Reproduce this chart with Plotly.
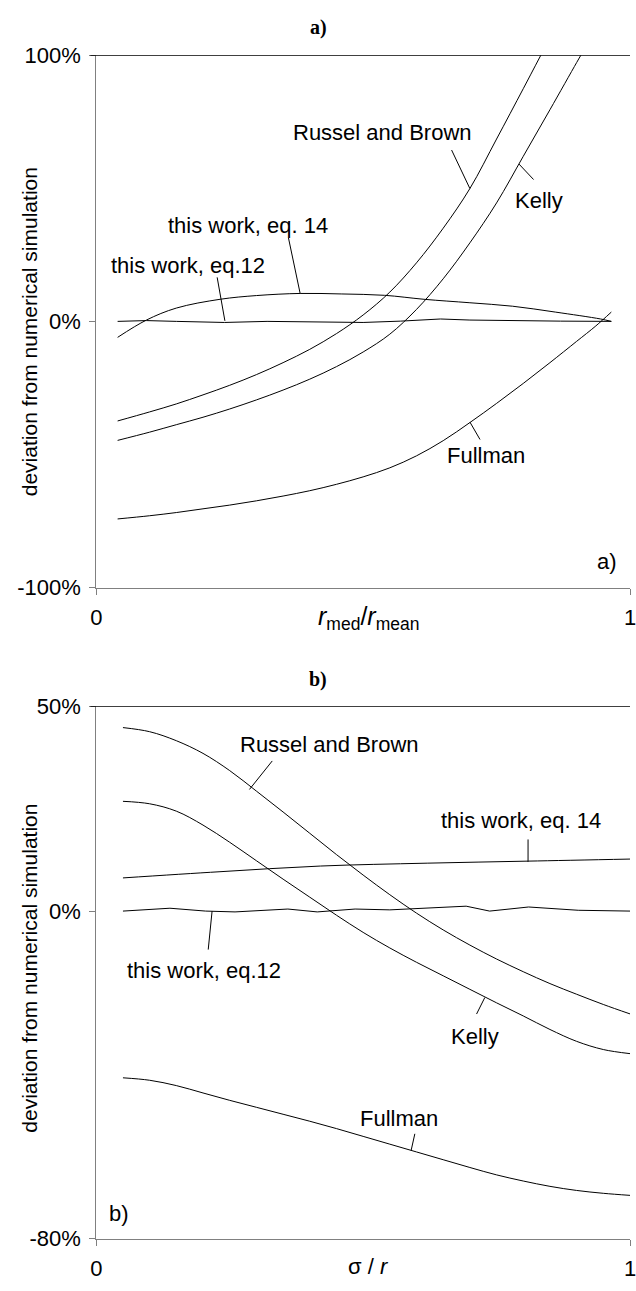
import plotly.graph_objects as go

W, H = 636, 1291

# ---------------- data: panel a) ----------------
a_russel_x = [0.04, 0.10, 0.15, 0.20, 0.25, 0.30, 0.35, 0.40, 0.45, 0.50, 0.55, 0.60, 0.65, 0.70, 0.75, 0.80, 0.833]
a_russel_y = [-37.4, -34.0, -31.0, -27.6, -24.0, -20.0, -15.5, -10.5, -4.6, 2.4, 11.0, 22.0, 35.0, 49.9, 68.5, 87.4, 100.0]

a_kelly_x = [0.04, 0.10, 0.15, 0.20, 0.25, 0.30, 0.35, 0.40, 0.45, 0.50, 0.55, 0.60, 0.65, 0.70, 0.75, 0.80, 0.85, 0.90, 0.908]
a_kelly_y = [-44.7, -41.6, -38.8, -36.0, -32.9, -29.5, -25.8, -21.7, -17.0, -11.5, -4.8, 4.5, 16.0, 29.5, 44.5, 62.0, 79.5, 97.2, 100.0]

a_fullman_x = [0.04, 0.10, 0.15, 0.20, 0.25, 0.30, 0.35, 0.40, 0.45, 0.50, 0.55, 0.60, 0.65, 0.70, 0.75, 0.80, 0.85, 0.90, 0.936, 0.965]
a_fullman_y = [-74.2, -73.0, -71.8, -70.4, -69.0, -67.4, -65.6, -63.6, -61.2, -58.4, -55.0, -50.5, -44.8, -38.0, -30.8, -23.3, -15.5, -7.5, -1.7, 3.5]

a_eq14_x = [0.04, 0.094, 0.15, 0.232, 0.30, 0.382, 0.46, 0.54, 0.614, 0.70, 0.78, 0.86, 0.945, 0.965]
a_eq14_y = [-6.0, 0.5, 5.0, 8.3, 9.7, 10.5, 10.3, 9.8, 8.3, 7.0, 5.7, 3.5, 0.9, 0.0]

a_eq12_x = [0.04, 0.094, 0.15, 0.24, 0.32, 0.41, 0.50, 0.57, 0.645, 0.70, 0.78, 0.87, 0.965]
a_eq12_y = [0.0, 0.3, 0.0, -0.4, 0.0, -0.3, -0.4, 0.1, 0.9, 0.5, 0.2, 0.1, 0.0]

# ---------------- data: panel b) ----------------
b_grid_x = [0.05, 0.10, 0.15, 0.20, 0.25, 0.30, 0.35, 0.40, 0.45, 0.50,
            0.55, 0.60, 0.65, 0.70, 0.75, 0.80, 0.85, 0.90, 0.95, 1.00]
b_russel_y = [44.8, 43.8, 41.6, 38.5, 34.3, 29.3, 24.2, 19.0, 13.8, 8.8,
              4.0, -0.5, -4.6, -8.3, -11.7, -14.8, -17.7, -20.3, -22.8, -25.1]
b_kelly_y = [26.8, 26.2, 24.4, 21.0, 16.8, 12.3, 7.8, 3.4, -1.0, -5.2,
             -9.0, -12.5, -15.8, -19.1, -22.4, -25.6, -28.9, -31.8, -33.8, -34.8]
b_fullman_y = [-40.7, -41.3, -42.6, -44.4, -46.2, -47.9, -49.6, -51.3, -53.1, -55.0,
               -56.9, -58.8, -60.7, -62.6, -64.4, -65.9, -67.2, -68.2, -68.9, -69.4]

b_eq14_x = [0.05, 0.23, 0.42, 0.62, 0.81, 1.0]
b_eq14_y = [8.1, 9.6, 11.0, 11.7, 12.2, 12.7]

b_eq12_x = [0.05, 0.138, 0.205, 0.26, 0.359, 0.414, 0.485, 0.55, 0.693, 0.737, 0.81, 0.903, 1.0]
b_eq12_y = [0.0, 0.7, 0.0, -0.2, 0.5, -0.2, 0.5, 0.3, 1.2, 0.0, 1.0, 0.2, 0.0]

a_yticks = [-100, 0, 100]
a_yticktext = ["-100%", "0%", "100%"]
b_yticks = [-80, 0, 50]
b_yticktext = ["-80%", "0%", "50%"]
xticks = [0, 1]
xticktext = ["0", "1"]

SANS = "Liberation Sans, Arial, sans-serif"
SERIF = "Liberation Serif, Times New Roman, serif"

fig = go.Figure()

def add_line(x, y, xa, ya, shape="spline"):
    fig.add_trace(go.Scatter(x=x, y=y, mode="lines", xaxis=xa, yaxis=ya,
                             line=dict(color="black", width=1, shape=shape, smoothing=1.0),
                             showlegend=False, hoverinfo="skip"))

add_line(a_russel_x, a_russel_y, "x", "y")
add_line(a_kelly_x, a_kelly_y, "x", "y")
add_line(a_fullman_x, a_fullman_y, "x", "y")
add_line(a_eq14_x, a_eq14_y, "x", "y")
add_line(a_eq12_x, a_eq12_y, "x", "y", shape="linear")

add_line(b_grid_x, b_russel_y, "x2", "y2")
add_line(b_grid_x, b_kelly_y, "x2", "y2")
add_line(b_grid_x, b_fullman_y, "x2", "y2")
add_line(b_eq14_x, b_eq14_y, "x2", "y2")
add_line(b_eq12_x, b_eq12_y, "x2", "y2", shape="linear")

xdom = [92 / W, 1.0]
a_dom = [1 - 587 / H, 1 - 44 / H]
b_dom = [1 - 1251 / H, 1 - 708 / H]

axis_common = dict(showline=True, linecolor="#808080", linewidth=1, ticks="outside",
                   ticklen=6, tickcolor="#808080", tickwidth=1, showgrid=False,
                   zeroline=False, ticklabelstandoff=4, ticklabeloverflow="allow",
                   tickfont=dict(family=SANS, size=22, color="black"))

fig.update_layout(
    width=W, height=H,
    margin=dict(l=0, r=0, t=0, b=0),
    paper_bgcolor="white", plot_bgcolor="white",
    xaxis=dict(domain=xdom, range=[0, 1], tickvals=xticks, ticktext=xticktext,
               anchor="y", **axis_common),
    yaxis=dict(domain=a_dom, range=[-100, 100], tickvals=a_yticks, ticktext=a_yticktext,
               anchor="x", **axis_common),
    xaxis2=dict(domain=xdom, range=[0, 1], tickvals=xticks, ticktext=xticktext,
                anchor="y2", **axis_common),
    yaxis2=dict(domain=b_dom, range=[-80, 50], tickvals=b_yticks, ticktext=b_yticktext,
                anchor="x2", **axis_common),
)

# black top border lines of both panels
fig.add_shape(type="line", xref="paper", yref="y", x0=86 / W, x1=1, y0=100, y1=100,
              line=dict(color="black", width=1.6))
fig.add_shape(type="line", xref="paper", yref="y2", x0=86 / W, x1=1, y0=50, y1=50,
              line=dict(color="black", width=1.6))

def ptext(px, py, text, size=22, family=SANS, **kw):
    fig.add_annotation(x=px / W, y=1 - py / H, xref="paper", yref="paper", text=text,
                       showarrow=False, xanchor="center", yanchor="middle",
                       font=dict(family=family, size=size, color="black"), **kw)

def leader(x, y, ax, ay, xr, yr):
    fig.add_annotation(x=x, y=y, xref=xr, yref=yr, ax=ax, ay=ay, text="",
                       showarrow=True, arrowhead=0, arrowwidth=1, arrowcolor="black",
                       standoff=0, startstandoff=0)

# panel titles
ptext(318, 16, "<b>a)</b>", size=20, family=SERIF)
ptext(318, 681, "<b>b)</b>", size=20, family=SERIF)

# axis titles
ptext(24, 326, "deviation from numerical simulation", size=21, textangle=-90)
ptext(24, 975, "deviation from numerical simulation", size=21, textangle=-90)
ptext(369, 618, "<i>r</i><sub>med</sub>/<i>r</i><sub>mean</sub>", size=25)
ptext(369, 1279, "σ / <i>r</i>", size=22)

# panel a labels
ptext(384, 123, "Russel and Brown")
ptext(543, 192, "Kelly")
ptext(247, 218, "this work, eq. 14")
ptext(186, 258, "this work, eq.12")
ptext(489, 452, "Fullman")
ptext(613, 560, "a)")

leader(0.700, 49.9, -19, -40, "x", "y")
leader(0.792, 59.1, 16, 17, "x", "y")
leader(0.382, 10.5, -12, -57, "x", "y")
leader(0.241, 0.2, -8, -45, "x", "y")
leader(0.700, -37.8, 11, 19, "x", "y")

# panel b labels
ptext(330, 747, "Russel and Brown")
ptext(525, 824, "this work, eq. 14")
ptext(202, 977, "this work, eq.12")
ptext(478, 1045, "Kelly")
ptext(401, 1128, "Fullman")
ptext(115, 1225, "b)")

leader(0.287, 29.7, 24, -30, "x2", "y2")
leader(0.809, 12.0, 0, -24, "x2", "y2")
leader(0.217, 0.0, -4, 40, "x2", "y2")
leader(0.728, -21.1, -9, 18, "x2", "y2")
leader(0.590, -58.4, 4, -18, "x2", "y2")

fig.write_html("out.html")
